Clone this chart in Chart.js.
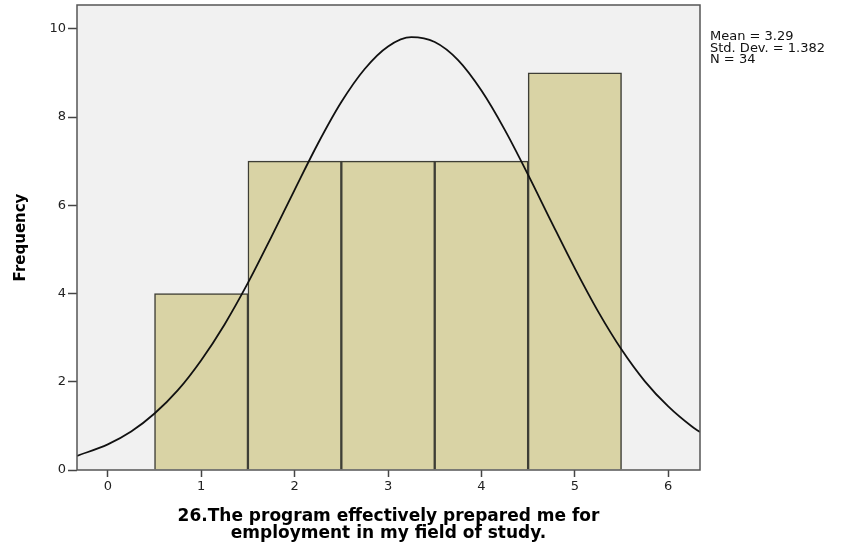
<!DOCTYPE html>
<html>
<head>
<meta charset="utf-8">
<script src="https://cdn.jsdelivr.net/npm/chart.js@4/dist/chart.umd.min.js"></script>
<style>
  html, body { margin: 0; padding: 0; background: #fff; }
  #wrap { width: 853px; height: 545px; }
</style>
</head>
<body>
<div id="wrap"><canvas id="histChart" width="853" height="545"></canvas></div>
<script>
// histogram bins (response value) and counts
var binValues = [1, 2, 3, 4, 5]
var binCounts = [4, 7, 7, 7, 9]

// normal curve
var curveX = [-0.33, 0, 0.25, 0.5, 0.75, 1, 1.25, 1.5, 1.75, 2, 2.25, 2.5, 2.75, 3, 3.25,
  3.5, 3.75, 4, 4.25, 4.5, 4.75, 5, 5.25, 5.5, 5.75, 6, 6.25, 6.34]
var curveY = [0.32, 0.58, 0.87, 1.28, 1.81, 2.49, 3.30, 4.24, 5.28, 6.35, 7.40, 8.34, 9.09, 9.60, 9.81,
  9.70, 9.29, 8.60, 7.71, 6.69, 5.62, 4.57, 3.59, 2.73, 2.01, 1.44, 0.99, 0.86]

var xTicks = [0, 1, 2, 3, 4, 5, 6]
var yTicks = [0, 2, 4, 6, 8, 10]
var statsLines = ["Mean = 3.29", "Std. Dev. = 1.382", "N = 34"]
var xTitle = ["26.The program effectively prepared me for", "employment in my field of study."]
var yTitle = "Frequency"

var plotFrame = {
  id: 'plotFrame',
  beforeDraw: function(chart) {
    var a = chart.chartArea, c = chart.ctx
    c.save()
    c.fillStyle = '#f1f1f1'
    c.fillRect(a.left, a.top, a.right - a.left, a.bottom - a.top)
    c.restore()
  },
  afterDraw: function(chart) {
    var a = chart.chartArea, c = chart.ctx
    c.save()
    c.strokeStyle = '#555'
    c.lineWidth = 1.5
    c.strokeRect(a.left, a.top, a.right - a.left, a.bottom - a.top)
    // stats box
    c.fillStyle = '#111'
    c.font = '13px "DejaVu Sans", sans-serif'
    c.textBaseline = 'middle'
    c.textAlign = 'left'
    for (var i = 0; i < statsLines.length; i++) {
      c.fillText(statsLines[i], 710, 37 + i * 11.5)
    }
    c.restore()
  }
}

var ctx = document.getElementById('histChart').getContext('2d')
var histChart = new Chart(ctx, {
  type: 'bar',
  data: {
    datasets: [{
      type: 'line',
      label: 'Normal',
      data: curveX.map(function(x, i) { return {x: x, y: curveY[i]} }),
      borderColor: '#111',
      borderWidth: 1.8,
      pointRadius: 0,
      fill: false,
      cubicInterpolationMode: 'monotone',
      order: 0
    },
    {
      type: 'bar',
      label: 'Frequency',
      data: binValues.map(function(v, i) { return {x: v, y: binCounts[i]} }),
      backgroundColor: '#d9d3a5',
      borderColor: '#3e3e36',
      borderWidth: 1.5,
      barPercentage: 1,
      categoryPercentage: 1,
      order: 1
    }]
  },
  options: {
    responsive: false,
    animation: false,
    layout: { padding: { left: 0, right: 153, top: 5, bottom: 3 } },
    plugins: { legend: { display: false }, tooltip: { enabled: false } },
    scales: {
      x: {
        type: 'linear',
        offset: false,
        min: -0.33,
        max: 6.34,
        afterBuildTicks: function(ax) { ax.ticks = xTicks.map(function(v) { return {value: v} }) },
        afterFit: function(ax) { ax.height = 72 },
        grid: { display: true, offset: false, drawOnChartArea: false, tickLength: 7, color: '#444', tickColor: '#444', tickWidth: 1.5 },
        border: { display: false },
        ticks: { color: '#222', font: { family: '"DejaVu Sans", sans-serif', size: 13 }, padding: 2 },
        title: {
          display: true,
          text: xTitle,
          color: '#000',
          font: { family: '"DejaVu Sans", sans-serif', size: 17, weight: 'bold', lineHeight: 1.0 },
          padding: { top: 0, bottom: 0 }
        }
      },
      y: {
        min: 0,
        max: 10.54,
        afterBuildTicks: function(ax) { ax.ticks = yTicks.map(function(v) { return {value: v} }) },
        afterFit: function(ax) { ax.width = 77; ax.paddingTop = 0 },
        grid: { display: true, drawOnChartArea: false, tickLength: 9, color: '#444', tickColor: '#444', tickWidth: 1.5 },
        border: { display: false },
        ticks: { color: '#222', font: { family: '"DejaVu Sans", sans-serif', size: 13 }, padding: 2 },
        title: {
          display: true,
          text: yTitle,
          color: '#000',
          font: { family: '"DejaVu Sans", sans-serif', size: 15, weight: 'bold' },
          padding: { top: 12, bottom: 0 }
        }
      }
    }
  },
  plugins: [plotFrame]
})
</script>
</body>
</html>
